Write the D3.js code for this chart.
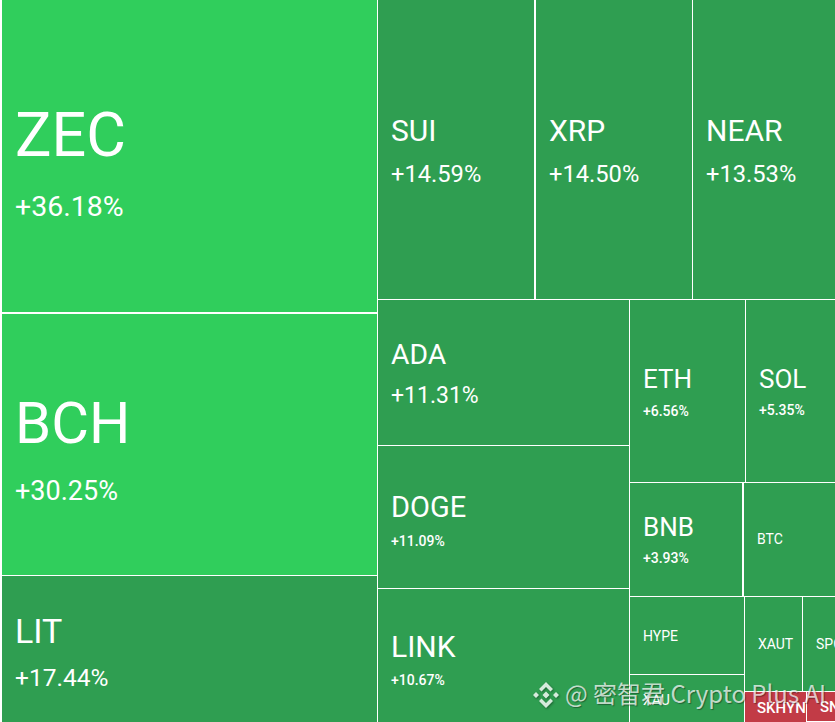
<!DOCTYPE html>
<html><head><meta charset="utf-8">
<script src="https://cdn.jsdelivr.net/npm/d3@7"></script>
<style>html,body{margin:0;padding:0;background:#fff;overflow:hidden}svg{display:block}</style>
</head><body><svg id="c" width="835" height="722"></svg>
<script>
// Data
const topCoins = ["ZEC","BCH","LIT"];
const topWeights = [112400,94000,52650];
const topChanges = ["+36.18%","+30.25%","+17.44%"];
const row1Coins = ["SUI","XRP","NEAR"];
const row1Weights = [45400,44700,40900];
const row1Changes = ["+14.59%","+14.50%","+13.53%"];
const midCoins = ["ADA","DOGE","LINK"];
const midWeights = [35230,34480,32170];
const midChanges = ["+11.31%","+11.09%","+10.67%"];
const row2Coins = ["ETH","SOL"];
const row2Weights = [20300,15770];
const row2Changes = ["+6.56%","+5.35%"];
const row3Coins = ["BNB","BTC"];
const row3Weights = [12330,9990];
const row3Changes = ["+3.93%",""];
const hypeCoins = ["HYPE","XAU"];
const hypeWeights = [8500,5300];
const xautCoins = ["XAUT","SPCX"];
const xautWeights = [5300,3000];
const redCoins = ["SKHYN"];
const redWeights = [1850];
const snCoins = ["SNDK",""];
const snWeights = [830,30];

const W=835,H=722;
const BRIGHT="#30ce5c", DARK="#2f9e51", RED="#c23b46";
// [name size, change size, weight, name baseline from cell centre, change baseline from cell centre]
const styleFor = {
 ZEC:[61,28.5,400,-1,59],BCH:[58,27,400,-2,55],LIT:[34,24.5,400,-6,37],
 SUI:[30,23.7,400,-9,32],XRP:[30,23.7,400,-9,32],NEAR:[30,23.7,400,-9,32],
 ADA:[28.3,23,400,-9,30.5],DOGE:[29,14,400,0,29],LINK:[30,14,400,1,29],
 ETH:[26,14,400,-3,25],SOL:[26,14,400,-3,24],BNB:[26,14,400,-3.5,23.5],
 BTC:[14,0,400,4.5,0],HYPE:[14,0,400,5,0],XAU:[14,0,400,6,0],XAUT:[14,0,400,5,0],SPCX:[14,0,400,5,0],SKHYN:[15,0,500,6,0],SNDK:[15,0,500,5,0]
};
const extraGap={ZEC:{b:1},SUI:{r:1},BNB:{r:1}};
const leaves=(names,weights,changes,sign)=>names.map((n,i)=>({name:n,value:weights[i],change:changes?changes[i]:"",sign:sign||1}));
const tree={name:"root",children:[
 {name:"left",children:leaves(topCoins,topWeights,topChanges)},
 {name:"right",children:[
  {name:"row1",children:leaves(row1Coins,row1Weights,row1Changes)},
  {name:"lower",children:[
   {name:"mid",children:leaves(midCoins,midWeights,midChanges)},
   {name:"rest",children:[
    {name:"r2",children:leaves(row2Coins,row2Weights,row2Changes)},
    {name:"r3",children:leaves(row3Coins,row3Weights,row3Changes)},
    {name:"r4",children:[
     {name:"hy",children:leaves(hypeCoins,hypeWeights)},
     {name:"xr",children:[
      {name:"xa",children:leaves(xautCoins,xautWeights)},
      {name:"rd",children:[
        ...leaves(redCoins,redWeights,null,-1),
        {name:"sn",children:leaves(snCoins,snWeights,null,-1)}
      ]}
     ]}
    ]}
   ]}
  ]}
 ]}
]};
const root=d3.hierarchy(tree).sum(d=>d.value||0);
d3.treemap().tile(d3.treemapSliceDice).size([W-2,H]).paddingInner(1).round(true)(root);
const svg=d3.select("#c");
const g=svg.append("g").attr("transform","translate(2,0)");
const cell=g.selectAll("g.cell").data(root.leaves().filter(d=>d.data.name)).join("g").attr("class","cell");
const clipId=(d,i)=>"clip"+i;
const rw=d=>d.x1-d.x0-((extraGap[d.data.name]||{}).r||0);
const rh=d=>d.y1-d.y0-((extraGap[d.data.name]||{}).b||0);
cell.append("clipPath").attr("id",clipId).append("rect")
 .attr("x",d=>d.x0).attr("y",d=>d.y0).attr("width",rw).attr("height",rh);
cell.append("rect").attr("x",d=>d.x0).attr("y",d=>d.y0).attr("width",rw).attr("height",rh)
 .attr("fill",d=>d.data.sign<0?RED:(["ZEC","BCH"].includes(d.data.name)?BRIGHT:DARK));
const labels=cell.append("g").attr("clip-path",(d,i)=>`url(#${clipId(d,i)})`);
labels.each(function(d){
 const s=styleFor[d.data.name], sel=d3.select(this);
 const cy=(d.y0+d.y1)/2, pad=13, fam="Roboto, sans-serif";
 sel.append("text").attr("x",d.x0+pad-(d.data.name==="SKHYN"?1:0)).attr("y",cy+s[3]).attr("fill","#fff").attr("font-family",fam)
   .attr("font-size",s[0]).attr("font-weight",s[2]).text(d.data.name);
 if(s[1]&&d.data.change) sel.append("text").attr("x",d.x0+pad).attr("y",cy+s[4]).attr("fill","#fff").attr("font-family",fam)
   .attr("font-size",s[1]).attr("font-weight",s[1]<=14?500:400).text(d.data.change);
});
// watermark
const wm=svg.append("g").attr("transform","translate(546,695)");
wm.append("path").attr("opacity",0.8).attr("fill","#fff").attr("fill-rule","evenodd")
 .attr("style","filter:drop-shadow(1px 1px 1px rgba(0,0,0,.45))")
 .attr("d","M0,-3.5L3.5,0L0,3.5L-3.5,0Z M-10,-3L-7,0L-10,3L-13,0Z M10,-3L13,0L10,3L7,0Z M0,-13L7,-6L4.5,-3.5L0,-8L-4.5,-3.5L-7,-6Z M0,13L7,6L4.5,3.5L0,8L-4.5,3.5L-7,6Z");
svg.append("text").attr("x",565).attr("y",703).attr("font-family","'Noto Sans CJK SC','Noto Sans',sans-serif").attr("font-size",24).attr("fill","#fff").attr("fill-opacity",0.72).attr("style","text-shadow:1px 1px 1px rgba(0,0,0,.5)").text("@ 密智君 Crypto Plus AI");
</script></body></html>
